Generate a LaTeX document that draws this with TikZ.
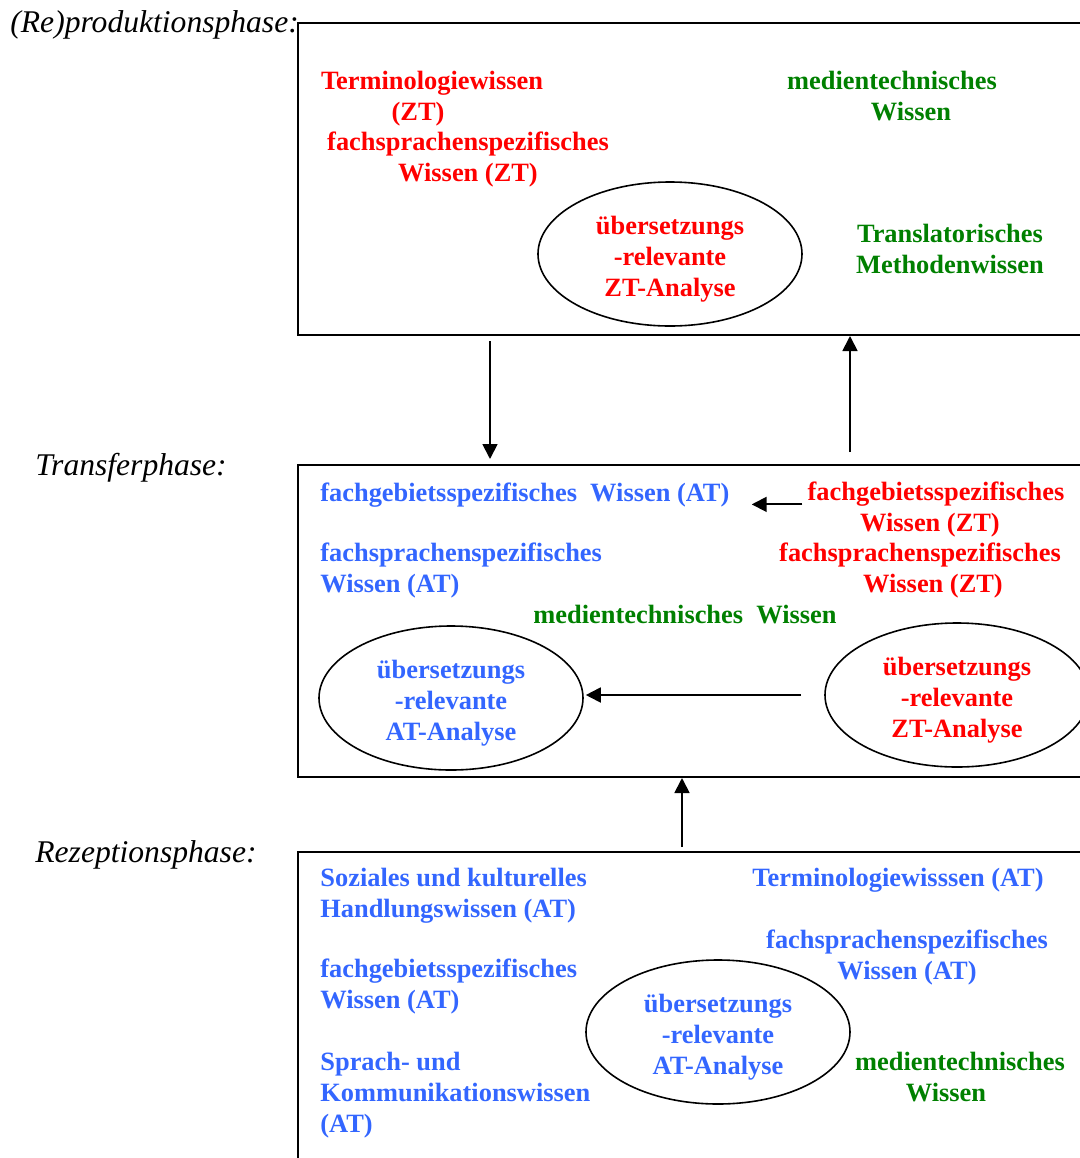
\documentclass[tikz,border=0pt]{standalone}
\usepackage{fontspec}
\setmainfont{Liberation Serif}
\usetikzlibrary{arrows.meta,positioning,shapes.geometric}
\definecolor{ztred}{RGB}{255,0,0}
\definecolor{atblue}{RGB}{51,102,255}
\definecolor{mtgreen}{RGB}{0,128,0}

\begin{document}
\begin{tikzpicture}[x=0.5pt,y=-0.5pt,
  phase/.style={draw,line width=1pt,inner sep=0pt},
  wissen/.style={inner sep=0pt,font=\fontsize{13.2}{15.5}\selectfont\bfseries},
  ana/.style={ellipse,draw,line width=0.8pt,minimum width=132pt,minimum height=72pt,
    align=center,wissen},
  lab/.style={anchor=west,inner sep=0pt,font=\fontsize{15.8}{18}\selectfont\itshape},
  arr/.style={line width=0.9pt,-{Triangle[length=7.5pt,width=7.5pt]}}]
  \useasboundingbox (0,0) rectangle (1080,1158);
  \clip (0,0) rectangle (1080,1158);
  % phase boxes
  \node[phase,minimum width=401pt,minimum height=156pt] (prod) at (699,179) {};
  \node[phase,minimum width=401pt,minimum height=156pt] (trans) at (699,621) {};
  \node[phase,minimum width=401pt,minimum height=174pt] (rez) at (699,1026) {};
  % phase labels
  \node[lab] (labprod) at (10,25) {(Re)produktionsphase:};
  \node[lab] (labtrans) at (35,468) {Transferphase:};
  \node[lab] (labrez) at (35,855) {Rezeptionsphase:};
  % (re)production
  \node[wissen,ztred,align=center] (term1) at (432,99) {Terminologiewissen\\(ZT)\hspace*{14pt}};
  \node[wissen,ztred,align=center] (fs1) at (468,160) {fachsprachenspezifisches\\Wissen (ZT)};
  \node[wissen,mtgreen,align=center] (mt1) at (892,96) {medientechnisches\\\hspace*{19pt}Wissen};
  \node[wissen,mtgreen,align=center] (tm1) at (950,249) {Translatorisches\\Methodenwissen};
  \node[ana,text=ztred] (zt1) at (670,254) {\rule{0pt}{14pt}übersetzungs\\-relevante\\ZT-Analyse};
  % transfer
  \node[wissen,atblue,anchor=west] (fg2) at (320,495) {fachgebietsspezifisches\ \ Wissen (AT)};
  \node[wissen,atblue,anchor=west,align=left] (fs2) at (320,571) {fachsprachenspezifisches\\Wissen (AT)};
  \node[wissen,mtgreen] (mt2) at (685,615) {medientechnisches\ \ Wissen};
  \node[wissen,ztred,align=center] (fgzt) at (936,510) {fachgebietsspezifisches\\Wissen (ZT)\hspace*{6pt}};
  \node[wissen,ztred,align=center] (fszt) at (920,571) {fachsprachenspezifisches\\\hspace*{13pt}Wissen (ZT)};
  \node[ana,text=atblue] (at2) at (451,698) {\rule{0pt}{14pt}übersetzungs\\-relevante\\AT-Analyse};
  \node[ana,text=ztred] (zt2) at (957,695) {\rule{0pt}{14pt}übersetzungs\\-relevante\\ZT-Analyse};
  % reception
  \node[wissen,atblue,anchor=west,align=left] (soz) at (320,896) {Soziales und kulturelles\\Handlungswissen (AT)};
  \node[wissen,atblue,anchor=west,align=left] (fg3) at (320,987) {fachgebietsspezifisches\\Wissen (AT)};
  \node[wissen,atblue,anchor=west,align=left] (spr) at (320,1095) {Sprach- und\\Kommunikationswissen\\(AT)};
  \node[wissen,atblue] (term3) at (898,880) {Terminologiewisssen (AT)};
  \node[wissen,atblue,align=center] (fs3) at (907,958) {fachsprachenspezifisches\\Wissen (AT)};
  \node[wissen,mtgreen,align=center] (mt3) at (960,1077) {medientechnisches\\Wissen\hspace*{14pt}};
  \node[ana,text=atblue] (at3) at (718,1032) {\rule{0pt}{14pt}übersetzungs\\-relevante\\AT-Analyse};
  % arrows
  \coordinate (dn) at (490,0);
  \coordinate (up1) at (850,0);
  \coordinate (up2) at (682,0);
  \draw[arr] ([yshift=-2.5pt]prod.south -| dn) -- ([yshift=2.5pt]trans.north -| dn);
  \draw[arr] ([yshift=6pt]trans.north -| up1) -- (prod.south -| up1);
  \draw[arr] ([yshift=2pt]rez.north -| up2) -- (trans.south -| up2);
  \draw[arr] ([xshift=-2.5pt,yshift=-1.5pt]fgzt.west |- fg2.base east) -- ([xshift=11pt,yshift=-1.5pt]fg2.base east);
  \draw[arr] ([xshift=-11.5pt]zt2.west) -- ([xshift=1pt]at2.east |- zt2.west);
\end{tikzpicture}
\end{document}
